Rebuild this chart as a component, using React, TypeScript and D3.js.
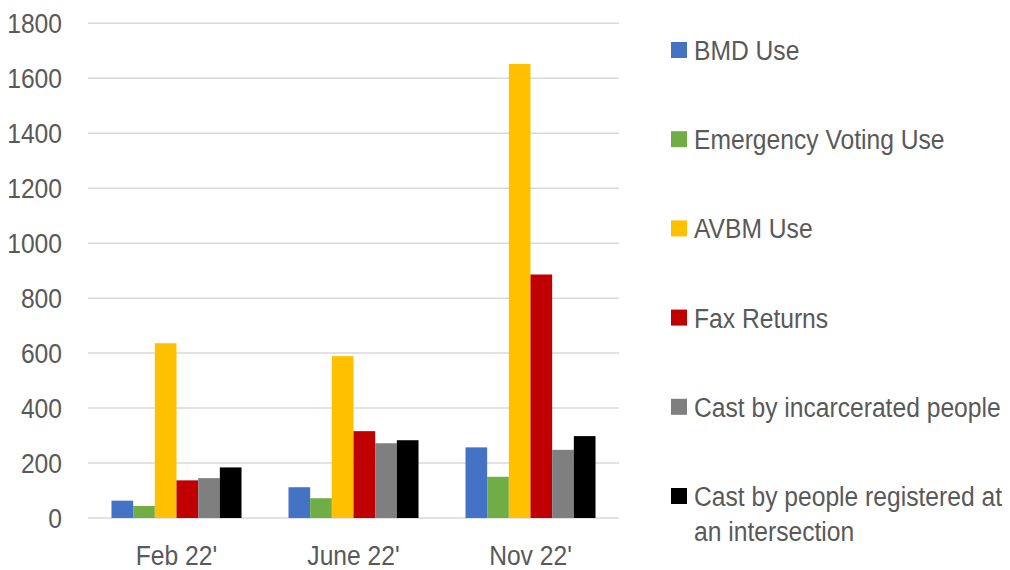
import React, { useEffect, useRef } from 'react';
import * as d3 from 'd3';

const categories = ["Feb 22'", "June 22'", "Nov 22'"];
const seriesNames = [
    'BMD Use',
    'Emergency Voting Use',
    'AVBM Use',
    'Fax Returns',
    'Cast by incarcerated people',
    'Cast by people registered at an intersection',
];
const seriesColors = ['#4472c4', '#70ad47', '#ffc000', '#c00000', '#7f7f7f', '#000000'];

// values per series, in category order
const bmdUse = [63, 112, 257];
const emergencyUse = [44, 72, 150];
const avbmUse = [636, 589, 1652];
const faxReturns = [137, 316, 886];
const incarcerated = [145, 272, 248];
const intersection = [184, 283, 298];

const yTicks = [0, 200, 400, 600, 800, 1000, 1200, 1400, 1600, 1800];

const legendLines = [
    ['BMD Use'],
    ['Emergency Voting Use'],
    ['AVBM Use'],
    ['Fax Returns'],
    ['Cast by incarcerated people'],
    ['Cast by people registered at', 'an intersection'],
];

const App = () => {
    const svgRef = useRef<SVGSVGElement>(null);

    useEffect(() => {
        if (!svgRef.current) return;
        const width = 1010;
        const height = 570;
        const textColor = '#595959';
        const squeeze = 0.88;

        d3.select(svgRef.current).selectAll('*').remove();
        const svg = d3.select(svgRef.current)
            .attr('width', width)
            .attr('height', height)
            .style('font-family', "'Liberation Sans', Arial, sans-serif");

        const values = [bmdUse, emergencyUse, avbmUse, faxReturns, incarcerated, intersection];
        const data = categories.map((c, i) => ({
            category: c,
            vals: seriesNames.map((s, j) => ({ key: s, value: values[j][i], color: seriesColors[j] })),
        }));

        const x0 = d3.scaleBand()
            .domain(categories)
            .range([88, 619])
            .paddingInner(0.2655)
            .paddingOuter(0.13275);

        const x1 = d3.scaleBand()
            .domain(seriesNames)
            .range([0, x0.bandwidth()]);

        const y = d3.scaleLinear()
            .domain([0, 1800])
            .range([518, 23.3]);

        // gridlines
        svg.append('g')
            .selectAll('line')
            .data(yTicks)
            .join('line')
            .attr('x1', 88)
            .attr('x2', 619)
            .attr('y1', d => y(d))
            .attr('y2', d => y(d))
            .attr('stroke', '#d9d9d9')
            .attr('stroke-width', 1.5);

        // y tick labels
        svg.append('g')
            .selectAll('text')
            .data(yTicks)
            .join('text')
            .attr('transform', d => `translate(62,${y(d) + 10}) scale(${squeeze},1)`)
            .attr('text-anchor', 'end')
            .attr('font-size', 28)
            .attr('fill', textColor)
            .text(d => d);

        // bars
        const groups = svg.append('g')
            .selectAll('g')
            .data(data)
            .join('g')
            .attr('transform', d => `translate(${x0(d.category)},0)`);

        groups.selectAll('rect')
            .data(d => d.vals)
            .join('rect')
            .attr('x', d => x1(d.key) || 0)
            .attr('width', x1.bandwidth())
            .attr('y', d => y(d.value))
            .attr('height', d => y(0) - y(d.value))
            .attr('fill', d => d.color);

        // x labels
        svg.append('g')
            .selectAll('text')
            .data(categories)
            .join('text')
            .attr('transform', d => `translate(${(x0(d) || 0) + x0.bandwidth() / 2},565) scale(${squeeze},1)`)
            .attr('text-anchor', 'middle')
            .attr('font-size', 28)
            .attr('fill', textColor)
            .text(d => d);

        // legend
        const legend = svg.append('g')
            .selectAll('g')
            .data(seriesNames)
            .join('g')
            .attr('transform', (d, i) => `translate(671,${50 + i * 89.2})`);

        legend.append('rect')
            .attr('x', 0)
            .attr('y', -8)
            .attr('width', 16)
            .attr('height', 16)
            .attr('fill', (d, i) => seriesColors[i]);

        legend.each(function (d, i) {
            const g = d3.select(this);
            legendLines[i].forEach((line, k) => {
                g.append('text')
                    .attr('transform', `translate(23,${10 + k * 35}) scale(${squeeze},1)`)
                    .attr('font-size', 28)
                    .attr('fill', textColor)
                    .text(line);
            });
        });
    }, []);

    return (
        <div style={{ position: 'absolute', left: 0, top: 0, width: 1010, height: 570, background: '#fff' }}>
            <svg ref={svgRef} style={{ display: 'block' }} />
        </div>
    );
};

export default App;
